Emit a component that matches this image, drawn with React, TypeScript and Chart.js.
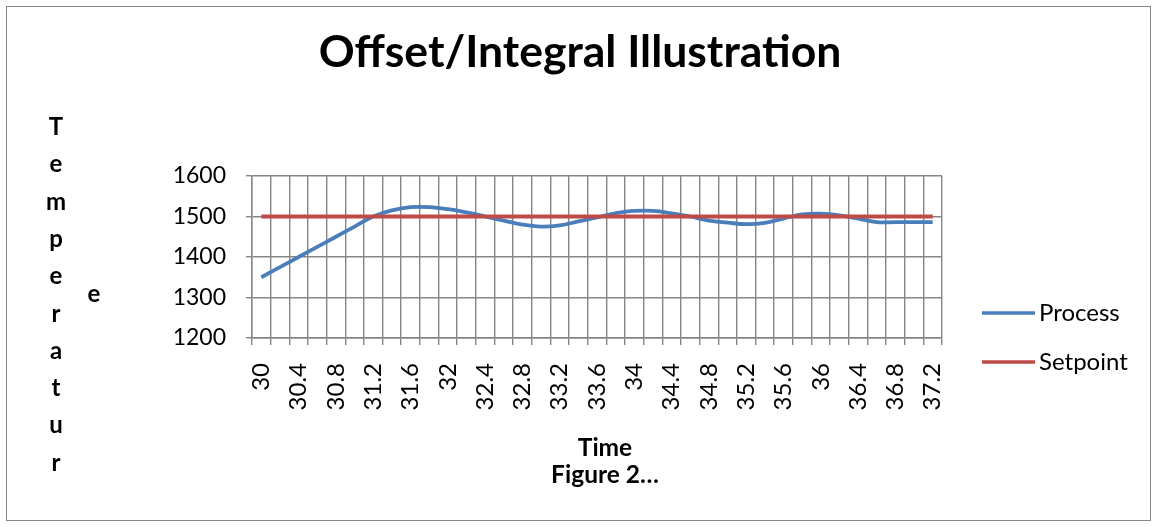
import React, { useEffect, useRef } from 'react';
import { Chart, registerables } from 'chart.js';

Chart.register(...registerables);

const categories = [
  '30', '30.2', '30.4', '30.6', '30.8', '31', '31.2', '31.4', '31.6', '31.8',
  '32', '32.2', '32.4', '32.6', '32.8', '33', '33.2', '33.4', '33.6', '33.8',
  '34', '34.2', '34.4', '34.6', '34.8', '35', '35.2', '35.4', '35.6', '35.8',
  '36', '36.2', '36.4', '36.6', '36.8', '37', '37.2',
];

const processValues = [
  1350, 1375, 1400, 1425, 1450, 1475, 1500, 1515, 1523, 1523,
  1518, 1510, 1500, 1490, 1480, 1475, 1478, 1488, 1498, 1508,
  1514, 1514, 1508, 1500, 1490, 1485, 1481, 1484, 1495, 1505,
  1507, 1503, 1495, 1486, 1486, 1486, 1486,
];

const setpointValues = [
  1500, 1500, 1500, 1500, 1500, 1500, 1500, 1500, 1500, 1500,
  1500, 1500, 1500, 1500, 1500, 1500, 1500, 1500, 1500, 1500,
  1500, 1500, 1500, 1500, 1500, 1500, 1500, 1500, 1500, 1500,
  1500, 1500, 1500, 1500, 1500, 1500, 1500,
];

const seriesNames = ['Process', 'Setpoint'];
const seriesColors = ['#4A7EBB', '#BE4B48'];
const yMin = 1200;
const yMax = 1600;
const yStep = 100;

const titleText = 'Offset/Integral Illustration';
const yTitle = 'Temperature';
const xTitle = 'Time';
const subTitle = 'Figure 2…';

const FONT = 'Lato, "Open Sans", sans-serif';
const GRID = '#868686';

const decorPlugin = {
  id: 'decor',
  afterDraw(chart: any) {
    const ctx = chart.ctx as CanvasRenderingContext2D;
    ctx.save();
    // outer border
    ctx.strokeStyle = '#878787';
    ctx.lineWidth = 1;
    ctx.strokeRect(6.5, 6.5, 1144, 514);

    ctx.fillStyle = '#000000';
    ctx.textAlign = 'center';
    ctx.textBaseline = 'alphabetic';

    // main title
    ctx.font = `bold 44.5px ${FONT}`;
    ctx.fillText(titleText, 580, 67);

    // y-axis title, stacked letters
    ctx.font = `bold 24px ${FONT}`;
    const col1 = yTitle.slice(0, -1).split('');
    col1.forEach((ch, i) => ctx.fillText(ch, 56, 135 + i * 37.3));
    ctx.fillText(yTitle.slice(-1), 94, 302);

    // x-axis title and figure caption
    ctx.font = `bold 24.5px ${FONT}`;
    ctx.fillText(xTitle, 605, 456);
    ctx.fillText(subTitle, 605, 483);

    // legend
    ctx.font = `24px ${FONT}`;
    ctx.textAlign = 'left';
    const legendY = [313, 362];
    seriesNames.forEach((name, i) => {
      ctx.strokeStyle = seriesColors[i];
      ctx.lineWidth = 3.5;
      ctx.beginPath();
      ctx.moveTo(982, legendY[i]);
      ctx.lineTo(1035, legendY[i]);
      ctx.stroke();
      ctx.fillStyle = '#000000';
      ctx.fillText(name, 1039, legendY[i] + 8);
    });
    ctx.restore();
  },
};

export default function App() {
  const canvasRef = useRef<HTMLCanvasElement | null>(null);

  useEffect(() => {
    if (!canvasRef.current) return;
    const chart = new Chart(canvasRef.current, {
      type: 'line',
      data: {
        labels: categories,
        datasets: [
          {
            label: seriesNames[0],
            data: processValues,
            borderColor: seriesColors[0],
            backgroundColor: seriesColors[0],
            borderWidth: 3.8,
            pointRadius: 0,
            tension: 0.4,
            order: 1,
          },
          {
            label: seriesNames[1],
            data: setpointValues,
            borderColor: seriesColors[1],
            backgroundColor: seriesColors[1],
            borderWidth: 3.8,
            pointRadius: 0,
            tension: 0,
            order: 0,
          },
        ],
      },
      options: {
        animation: false,
        responsive: false,
        events: [],
        layout: { padding: { left: 0, top: 176, right: 215, bottom: 0 } },
        plugins: {
          legend: { display: false },
          title: { display: false },
          tooltip: { enabled: false },
        },
        scales: {
          x: {
            type: 'category',
            offset: true,
            grid: {
              offset: true,
              color: GRID,
              lineWidth: 1.4,
              tickLength: 7,
              drawTicks: true,
            },
            border: { color: GRID, width: 1.4 },
            ticks: {
              autoSkip: false,
              minRotation: 90,
              maxRotation: 90,
              padding: 18,
              color: '#000000',
              font: { family: FONT, size: 24 },
              callback: (_v: any, i: number) => (i % 2 === 0 ? categories[i] : ''),
            },
            afterFit: (scale: any) => {
              scale.height = 189;
            },
          },
          y: {
            min: yMin,
            max: yMax,
            grid: {
              color: GRID,
              lineWidth: 1.4,
              tickLength: 6,
            },
            border: { color: GRID, width: 1.4 },
            ticks: {
              stepSize: yStep,
              padding: 20,
              color: '#000000',
              font: { family: FONT, size: 23 },
              callback: (v: any) => String(v),
            },
            afterFit: (scale: any) => {
              scale.width = 252;
            },
          },
        },
      },
      plugins: [decorPlugin],
    });
    return () => chart.destroy();
  }, []);

  return (
    <div style={{ position: 'absolute', left: 0, top: 0, width: 1157, height: 527, background: '#ffffff' }}>
      <canvas ref={canvasRef} width={1157} height={527} style={{ display: 'block' }} />
    </div>
  );
}
